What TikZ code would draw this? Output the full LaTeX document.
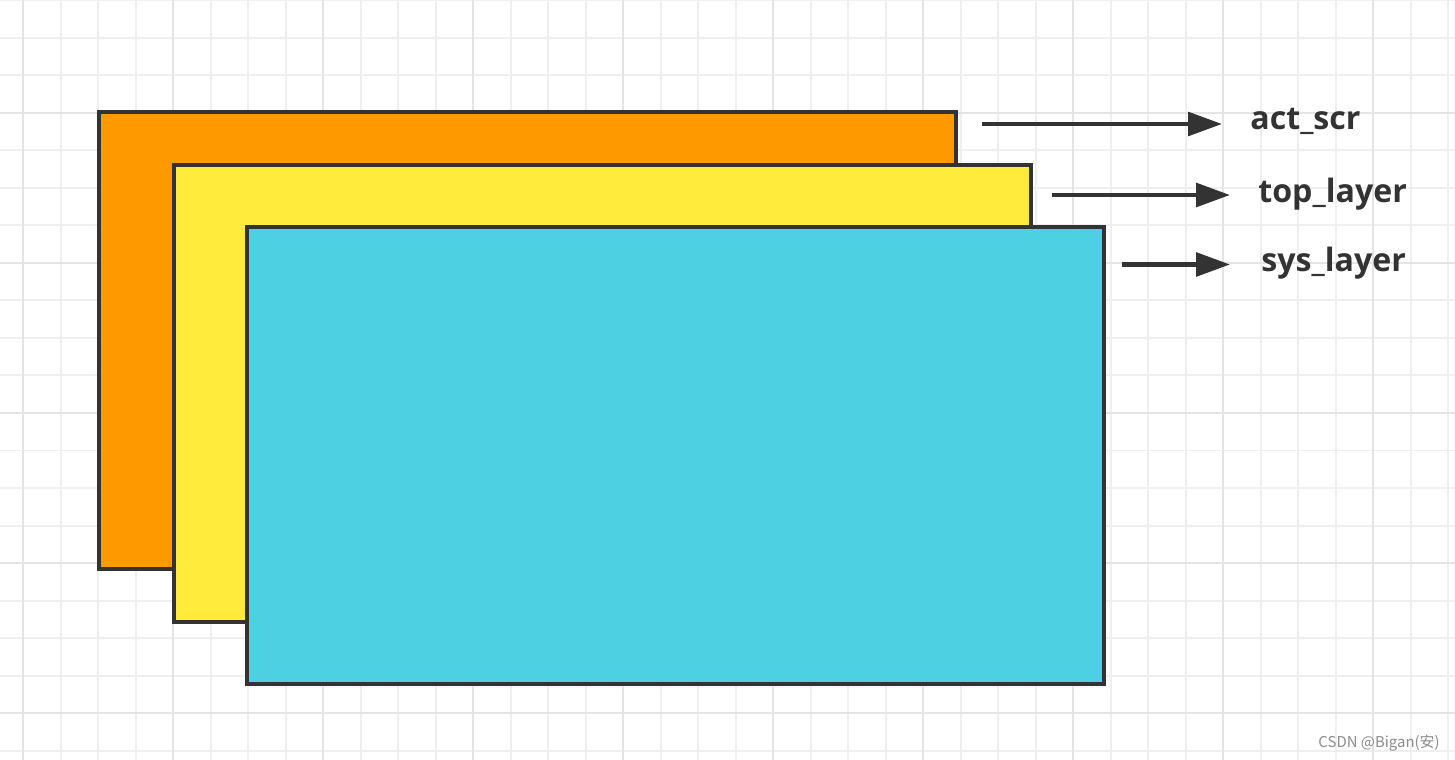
\documentclass[tikz,border=0pt]{standalone}
\usepackage{fontspec}
\setmainfont{Open Sans}
\newfontfamily\cjkfont{Noto Sans CJK SC}
\usepackage{xcolor}
\usetikzlibrary{arrows.meta,positioning}

\definecolor{actorange}{HTML}{FF9900}
\definecolor{topyellow}{HTML}{FFEB3B}
\definecolor{syscyan}{HTML}{4DD0E1}
\definecolor{edgegray}{HTML}{333333}
\definecolor{gridminor}{HTML}{EFEFEF}
\definecolor{gridmajor}{HTML}{E4E4E4}

\begin{document}
\begin{tikzpicture}[
  x=0.02cm, y=-0.02cm,
  minorline/.style={draw=gridminor, line width=0.04cm},
  majorline/.style={draw=gridmajor, line width=0.05cm},
  layer/.style={rectangle, draw=edgegray, line width=0.08cm, minimum width=17.14cm, minimum height=9.14cm, inner sep=0pt, outer sep=0pt},
  lbl/.style={anchor=base west, inner sep=0pt, text=edgegray, font=\fontsize{18.3pt}{21pt}\selectfont\bfseries},
  arrow/.style={-{Triangle[length=0.68cm, width=0.47cm]}, draw=edgegray, fill=edgegray, line width=0.09cm, shorten >=0.56cm}
]

\useasboundingbox (0,0) rectangle (1455,760);
\fill[white] (0,0) rectangle (1455,760);

% Grid
\foreach \gx in {-14.5,23,...,1455} \draw[minorline] (\gx,0) -- (\gx,760);
\foreach \gy in {0.5,38,...,760} \draw[minorline] (0,\gy) -- (1455,\gy);
\foreach \gx in {23,173,...,1455} \draw[majorline] (\gx,0) -- (\gx,760);
\foreach \gy in {113,263,...,760} \draw[majorline] (0,\gy) -- (1455,\gy);

% Layers
\node[layer, fill=actorange] (act) at (527.75,340.75) {};
\node[layer, fill=topyellow] (top) at (602.5,393.25) {};
\node[layer, fill=syscyan] (sys) at (675.75,455.75) {};

% Labels
\node[lbl] (actlbl) at (1250,130) {act\_scr};
\node[lbl] (toplbl) at (1258,203) {top\_layer};
\node[lbl] (syslbl) at (1261,272) {sys\_layer};

% Arrows
\coordinate (acttail) at (982,124);
\coordinate (toptail) at (1052,195);
\coordinate (systail) at (1122,264.5);

\draw[arrow] (acttail) -- (acttail -| actlbl.west);
\draw[arrow] (toptail) -- (toptail -| toplbl.west);
\draw[arrow, shorten >=0.62cm] (systail) -- (systail -| syslbl.west);

% Watermark
\node[anchor=base east, inner sep=0pt, text=black!45, font=\cjkfont\fontsize{8.5pt}{10pt}\selectfont] (mark) at (1440,747) {CSDN @Bigan(安)};

\end{tikzpicture}
\end{document}
